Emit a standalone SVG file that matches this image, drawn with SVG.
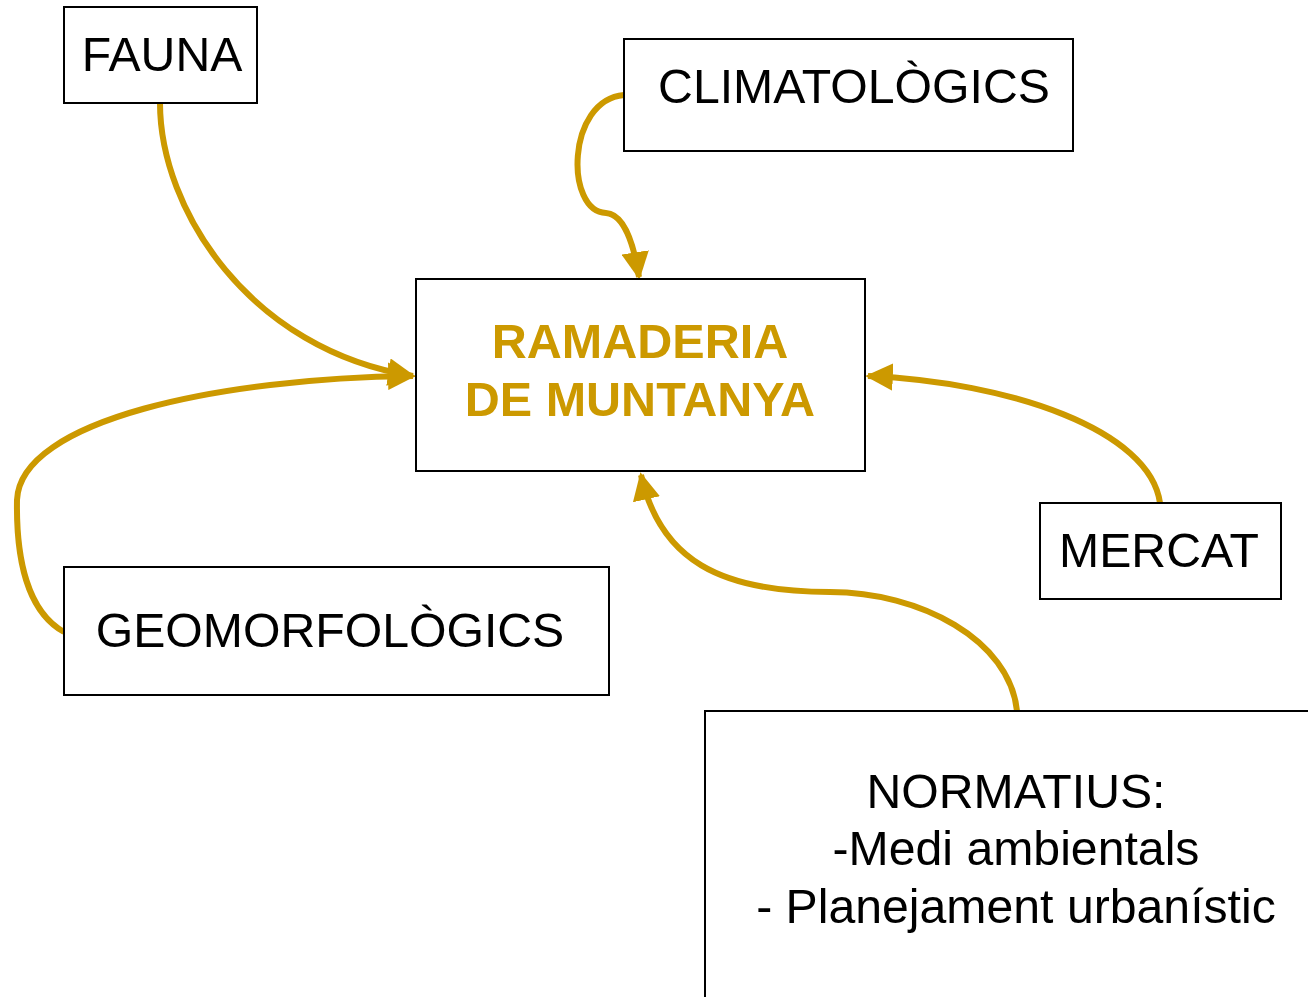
<svg xmlns="http://www.w3.org/2000/svg" width="1308" height="997" viewBox="0 0 1308 997">
<style>
.box{fill:#fff;stroke:#000;stroke-width:2}
.t{font-family:"Liberation Sans",Arial,sans-serif;font-size:48.2px;fill:#000;text-anchor:middle}
.tb{font-family:"Liberation Sans",Arial,sans-serif;font-size:48.5px;font-weight:bold;fill:#CC9900;text-anchor:middle}
.c{fill:none;stroke:#CC9900;stroke-width:6}
</style>
<defs>
<marker id="ah" viewBox="0 0 10 10" refX="9" refY="5" markerWidth="4.6" markerHeight="4.6" orient="auto">
<path d="M0,0 L10,5 L0,10 z" fill="#CC9900"/>
</marker>
</defs>
<rect width="1308" height="997" fill="#fff"/>
<g id="connectors">
<path class="c" marker-end="url(#ah)" d="M160,103 C160,210 250,350 413,376"/>
<path class="c" marker-end="url(#ah)" d="M64,632 C28,612 16,560 17,500 C20,420 220,378 413,376"/>
<path class="c" marker-end="url(#ah)" d="M624,95 C566,100 565,212 606,213 C624,214 634,245 639,277"/>
<path class="c" marker-end="url(#ah)" d="M1160,503 C1150,430 1010,382 868,376"/>
<path class="c" marker-end="url(#ah)" d="M1017,711 C1010,640 920,592 830,592 C720,592 660,560 641,475"/>
</g>
<g id="fauna"><rect class="box" x="64" y="7" width="193" height="96"/><text class="t" x="162" y="71">FAUNA</text></g>
<g id="climatologics"><rect class="box" x="624" y="39" width="449" height="112"/><text class="t" x="854" y="103">CLIMATOLÒGICS</text></g>
<g id="ramaderia"><rect class="box" x="416" y="279" width="449" height="192"/><text class="tb" x="640" y="358">RAMADERIA</text><text class="tb" x="640" y="416">DE MUNTANYA</text></g>
<g id="mercat"><rect class="box" x="1040" y="503" width="241" height="96"/><text class="t" x="1159" y="567">MERCAT</text></g>
<g id="geomorfologics"><rect class="box" x="64" y="567" width="545" height="128"/><text class="t" x="330" y="647">GEOMORFOLÒGICS</text></g>
<g id="normatius"><rect class="box" x="705" y="711" width="620" height="310"/><text class="t" x="1016" y="808">NORMATIUS:</text><text class="t" x="1016" y="865">-Medi ambientals</text><text class="t" x="1016" y="923">- Planejament urbanístic</text></g>
</svg>
